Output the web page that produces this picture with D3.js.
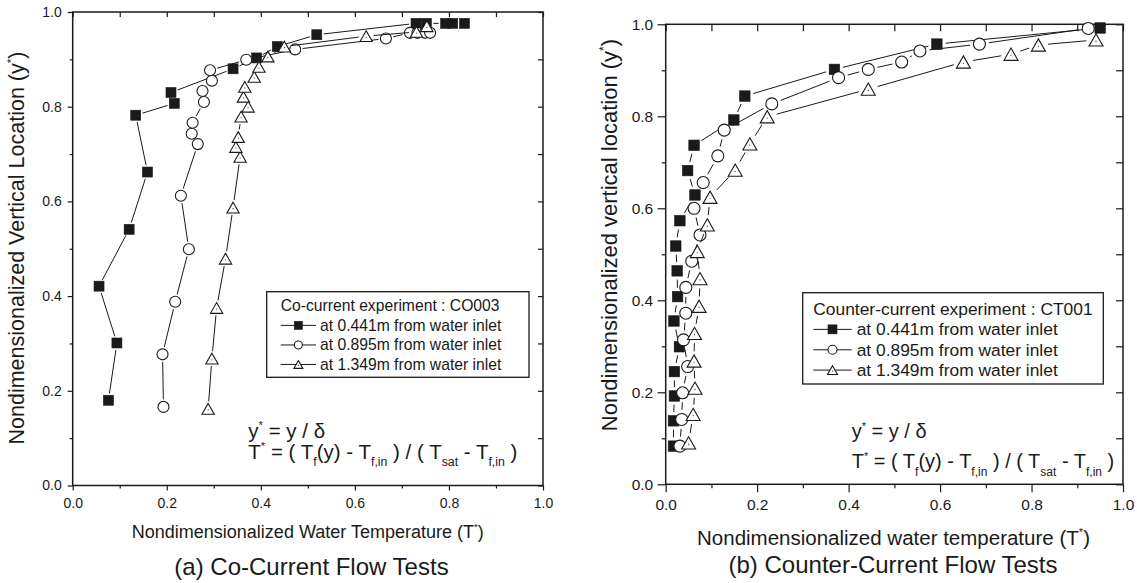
<!DOCTYPE html>
<html><head><meta charset="utf-8">
<script src="https://cdn.jsdelivr.net/npm/d3@7/dist/d3.min.js"></script>
<style>
body{margin:0;background:#fff}
svg text{font-family:"Liberation Sans",Arial,Helvetica,sans-serif;fill:#1a1a1a}
</style>
</head><body>
<svg id="c" width="1137" height="583"></svg>
<script>
// ---------- tick labels ----------
const majorTicks = [0.0, 0.2, 0.4, 0.6, 0.8, 1.0];
const minorTicks = [0.1, 0.3, 0.5, 0.7, 0.9];

// ---------- (a) Co-current, CO003 ----------
const coT441 = [0.076, 0.094, 0.056, 0.120, 0.159, 0.134, 0.216, 0.209, 0.341, 0.391, 0.435, 0.519, 0.730, 0.752, 0.793, 0.808, 0.833];
const coY441 = [0.180, 0.301, 0.421, 0.541, 0.662, 0.782, 0.807, 0.830, 0.880, 0.903, 0.927, 0.952, 0.976, 0.976, 0.976, 0.976, 0.976];
const coT895 = [0.193, 0.191, 0.218, 0.247, 0.230, 0.266, 0.253, 0.255, 0.279, 0.276, 0.296, 0.292, 0.369, 0.473, 0.666, 0.717, 0.733, 0.749, 0.760];
const coY895 = [0.166, 0.277, 0.388, 0.499, 0.612, 0.721, 0.743, 0.766, 0.810, 0.833, 0.855, 0.877, 0.899, 0.921, 0.944, 0.956, 0.956, 0.956, 0.956];
const coT1349 = [0.288, 0.296, 0.306, 0.325, 0.341, 0.356, 0.347, 0.352, 0.358, 0.373, 0.363, 0.366, 0.386, 0.396, 0.415, 0.450, 0.624, 0.731, 0.753];
const coY1349 = [0.162, 0.268, 0.375, 0.479, 0.587, 0.694, 0.715, 0.736, 0.779, 0.800, 0.821, 0.842, 0.863, 0.884, 0.906, 0.927, 0.949, 0.958, 0.970];

// ---------- (b) Counter-current, CT001 ----------
const ctT441 = [0.017, 0.017, 0.019, 0.019, 0.030, 0.018, 0.026, 0.025, 0.022, 0.031, 0.064, 0.048, 0.062, 0.149, 0.173, 0.369, 0.593, 0.950];
const ctY441 = [0.083, 0.138, 0.192, 0.245, 0.299, 0.355, 0.408, 0.464, 0.518, 0.573, 0.629, 0.682, 0.737, 0.792, 0.844, 0.902, 0.957, 0.992];
const ctT895 = [0.031, 0.035, 0.037, 0.048, 0.039, 0.044, 0.044, 0.057, 0.075, 0.062, 0.082, 0.114, 0.128, 0.232, 0.378, 0.443, 0.516, 0.556, 0.686, 0.924];
const ctY895 = [0.083, 0.141, 0.199, 0.256, 0.314, 0.372, 0.428, 0.485, 0.542, 0.600, 0.656, 0.714, 0.770, 0.827, 0.884, 0.902, 0.918, 0.942, 0.957, 0.991];
const ctT1349 = [0.050, 0.060, 0.064, 0.062, 0.063, 0.073, 0.075, 0.069, 0.091, 0.097, 0.152, 0.184, 0.222, 0.443, 0.651, 0.755, 0.815, 0.941];
const ctY1349 = [0.090, 0.152, 0.209, 0.268, 0.328, 0.387, 0.447, 0.506, 0.564, 0.624, 0.683, 0.740, 0.799, 0.859, 0.918, 0.935, 0.955, 0.966];

const legendLabels = ["at 0.441m from water inlet", "at 0.895m from water inlet", "at 1.349m from water inlet"];
const shapes = ["square", "circle", "triangle"];

const INK = "#1a1a1a";
const svg = d3.select("#c");

function marker(g, shape, cx, cy, s) {
  if (shape === "square") {
    g.append("rect").attr("x", cx - s/2).attr("y", cy - s/2).attr("width", s).attr("height", s)
      .attr("fill", INK).attr("stroke", INK).attr("stroke-width", 0.6);
  } else if (shape === "circle") {
    g.append("circle").attr("cx", cx).attr("cy", cy).attr("r", s/2)
      .attr("fill", "#fff").attr("stroke", INK).attr("stroke-width", 1.1);
  } else {
    const w = s * 1.12, h = s * 0.98;
    g.append("path").attr("d", `M${cx},${cy - h/2}L${cx + w/2},${cy + h/2}L${cx - w/2},${cy + h/2}Z`)
      .attr("fill", "#fff").attr("stroke", INK).attr("stroke-width", 1.1).attr("stroke-linejoin", "miter");
    g.append("circle").attr("cx", cx).attr("cy", cy + h*0.1).attr("r", 0.55).attr("fill", INK);
  }
}

function drawSeries(g, x, y, Ts, Ys, shape, s, gap) {
  const pts = Ts.map((t, i) => [x(t), y(Ys[i])]);
  const trim = s/2 + gap;
  for (let i = 0; i < pts.length - 1; i++) {
    const [x1, y1] = pts[i], [x2, y2] = pts[i+1];
    const dx = x2 - x1, dy = y2 - y1, d = Math.hypot(dx, dy);
    if (d > 2*trim + 1) {
      const ux = dx/d, uy = dy/d;
      g.append("line").attr("x1", x1 + ux*trim).attr("y1", y1 + uy*trim)
        .attr("x2", x2 - ux*trim).attr("y2", y2 - uy*trim)
        .attr("stroke", INK).attr("stroke-width", 1);
    }
  }
  pts.forEach(p => marker(g, shape, p[0], p[1], s));
}

// rich text: parts = [[text, type]], type: n | sup | sub
function rich(g, x, yb, parts, fs) {
  const t = g.append("text").attr("x", x).attr("y", yb).attr("font-size", fs);
  let cur = 0;
  parts.forEach(([str, type]) => {
    let target = 0, size = fs;
    if (type === "sup") { target = -fs*0.42; size = fs*0.55; }
    if (type === "sub") { target = fs*0.36; size = fs*0.6; }
    t.append("tspan").attr("dy", target - cur).attr("font-size", size).text(str);
    cur = target;
  });
  return t;
}

function drawPanel(cfg) {
  const g = svg.append("g");
  const x = d3.scaleLinear().domain([0, 1]).range([cfg.L, cfg.R]);
  const y = d3.scaleLinear().domain([0, 1]).range([cfg.B, cfg.T]);
  const fmt = d3.format(".1f");
  const style = sel => {
    sel.select(".domain").remove();
    sel.selectAll("line").attr("stroke", INK).attr("stroke-width", 1.2);
    sel.selectAll("text").attr("font-size", cfg.tickFont).attr("fill", INK).attr("font-family", null);
  };
  g.append("g").attr("transform", `translate(0,${cfg.B})`)
    .call(d3.axisBottom(x).tickValues(majorTicks).tickFormat(fmt).tickSize(cfg.majLen).tickSizeOuter(0).tickPadding(cfg.xPad)).call(style);
  g.append("g").attr("transform", `translate(0,${cfg.B})`)
    .call(d3.axisBottom(x).tickValues(minorTicks).tickFormat("").tickSize(cfg.minLen).tickSizeOuter(0)).call(style);
  g.append("g").attr("transform", `translate(${cfg.L},0)`)
    .call(d3.axisLeft(y).tickValues(majorTicks).tickFormat(fmt).tickSize(cfg.majLen).tickSizeOuter(0).tickPadding(cfg.yPad)).call(style);
  g.append("g").attr("transform", `translate(${cfg.L},0)`)
    .call(d3.axisLeft(y).tickValues(minorTicks).tickFormat("").tickSize(cfg.minLen).tickSizeOuter(0)).call(style);
  g.append("g").attr("transform", `translate(0,${cfg.T})`)
    .call(d3.axisTop(x).tickValues(majorTicks.concat(minorTicks)).tickFormat("").tickSize(-cfg.inLen).tickSizeOuter(0)).call(style);
  g.append("g").attr("transform", `translate(${cfg.R},0)`)
    .call(d3.axisRight(y).tickValues(majorTicks.concat(minorTicks)).tickFormat("").tickSize(-cfg.inLen).tickSizeOuter(0)).call(style);
  g.append("rect").attr("x", cfg.L).attr("y", cfg.T).attr("width", cfg.R - cfg.L).attr("height", cfg.B - cfg.T)
    .attr("fill", "none").attr("stroke", INK).attr("stroke-width", 1.5);

  const plot = g.append("g");
  cfg.series.forEach((s, i) => drawSeries(plot, x, y, s[0], s[1], shapes[i], cfg.ms[i], cfg.gap));

  const lg = g.append("g");
  const L = cfg.legend;
  lg.append("rect").attr("x", L.x).attr("y", L.y).attr("width", L.w).attr("height", L.h)
    .attr("fill", "#fff").attr("stroke", INK).attr("stroke-width", 1.3);
  lg.append("text").attr("x", L.tx).attr("y", L.titleY).attr("font-size", L.fs).text(L.title);
  legendLabels.forEach((lab, i) => {
    const yb = L.rowY[i];
    const ym = yb - L.fs*0.34;
    lg.append("line").attr("x1", L.sx1).attr("x2", L.sx2).attr("y1", ym).attr("y2", ym)
      .attr("stroke", INK).attr("stroke-width", 1);
    marker(lg, shapes[i], (L.sx1 + L.sx2)/2, ym, L.ms);
    lg.append("text").attr("x", L.lx).attr("y", yb).attr("font-size", L.fs).text(lab);
  });

  const E = cfg.eq;
  rich(g, E.x, E.y1, [["y","n"],["*","sup"],[" = y / δ","n"]], E.fs);
  rich(g, E.x, E.y2, [["T","n"],["*","sup"],[" = ( T","n"],["f","sub"],["(y) - T","n"],["f,in","sub"],[" ) / ( T","n"],["sat","sub"],[" - T","n"],["f,in","sub"],[" )","n"]], E.fs);

  const xt = rich(g, cfg.xTitle.x, cfg.xTitle.y, [[cfg.xTitle.text,"n"],["*","sup"],[")","n"]], cfg.xTitle.fs);
  xt.attr("text-anchor", "middle");
  const yt = rich(g, 0, 0, [[cfg.yTitle.text,"n"],["*","sup"],[")","n"]], cfg.yTitle.fs);
  yt.attr("text-anchor", "middle").attr("transform", `translate(${cfg.yTitle.x},${cfg.yTitle.y}) rotate(-90)`);
  g.append("text").attr("x", cfg.caption.x).attr("y", cfg.caption.y).attr("font-size", cfg.caption.fs)
    .attr("text-anchor", "middle").text(cfg.caption.text);
}

drawPanel({
  L: 72.7, R: 543, T: 12, B: 485.5,
  tickFont: 14, majLen: 5, minLen: 3, inLen: 5, xPad: 8, yPad: 6,
  series: [[coT441, coY441], [coT895, coY895], [coT1349, coY1349]],
  ms: [10, 11, 11], gap: 2,
  legend: { x: 266.7, y: 291.7, w: 262.3, h: 85.6, tx: 280.7, titleY: 310.7, fs: 15.7,
            rowY: [330.7, 350.3, 369.8], sx1: 280.7, sx2: 316, lx: 320, ms: 8,
            title: "Co-current experiment : CO003" },
  eq: { x: 248.3, y1: 437.5, y2: 459, fs: 20.5 },
  xTitle: { x: 307.8, y: 538, fs: 18, text: "Nondimensionalized Water Temperature (T" },
  yTitle: { x: 24, y: 248, fs: 21.5, text: "Nondimensionalized Vertical Location (y" },
  caption: { x: 311.5, y: 575, fs: 24, text: "(a) Co-Current Flow Tests" }
});

drawPanel({
  L: 665.7, R: 1123, T: 24.3, B: 484.3,
  tickFont: 15.5, majLen: 8, minLen: 4, inLen: 7, xPad: 7, yPad: 4.5,
  series: [[ctT441, ctY441], [ctT895, ctY895], [ctT1349, ctY1349]],
  ms: [10.5, 12, 12.5], gap: 3.5,
  legend: { x: 802.7, y: 292.7, w: 300.6, h: 91.3, tx: 813.3, titleY: 315, fs: 17.4,
            rowY: [335.3, 355.7, 376], sx1: 813.3, sx2: 851.7, lx: 856.7, ms: 9,
            title: "Counter-current experiment : CT001" },
  eq: { x: 851.7, y1: 438.3, y2: 468.3, fs: 20 },
  xTitle: { x: 893.5, y: 545, fs: 20.5, text: "Nondimensionalized water temperature (T" },
  yTitle: { x: 617, y: 235, fs: 22, text: "Nondimensionalized vertical location (y" },
  caption: { x: 893, y: 573, fs: 24, text: "(b) Counter-Current Flow Tests" }
});
</script>
</body></html>
